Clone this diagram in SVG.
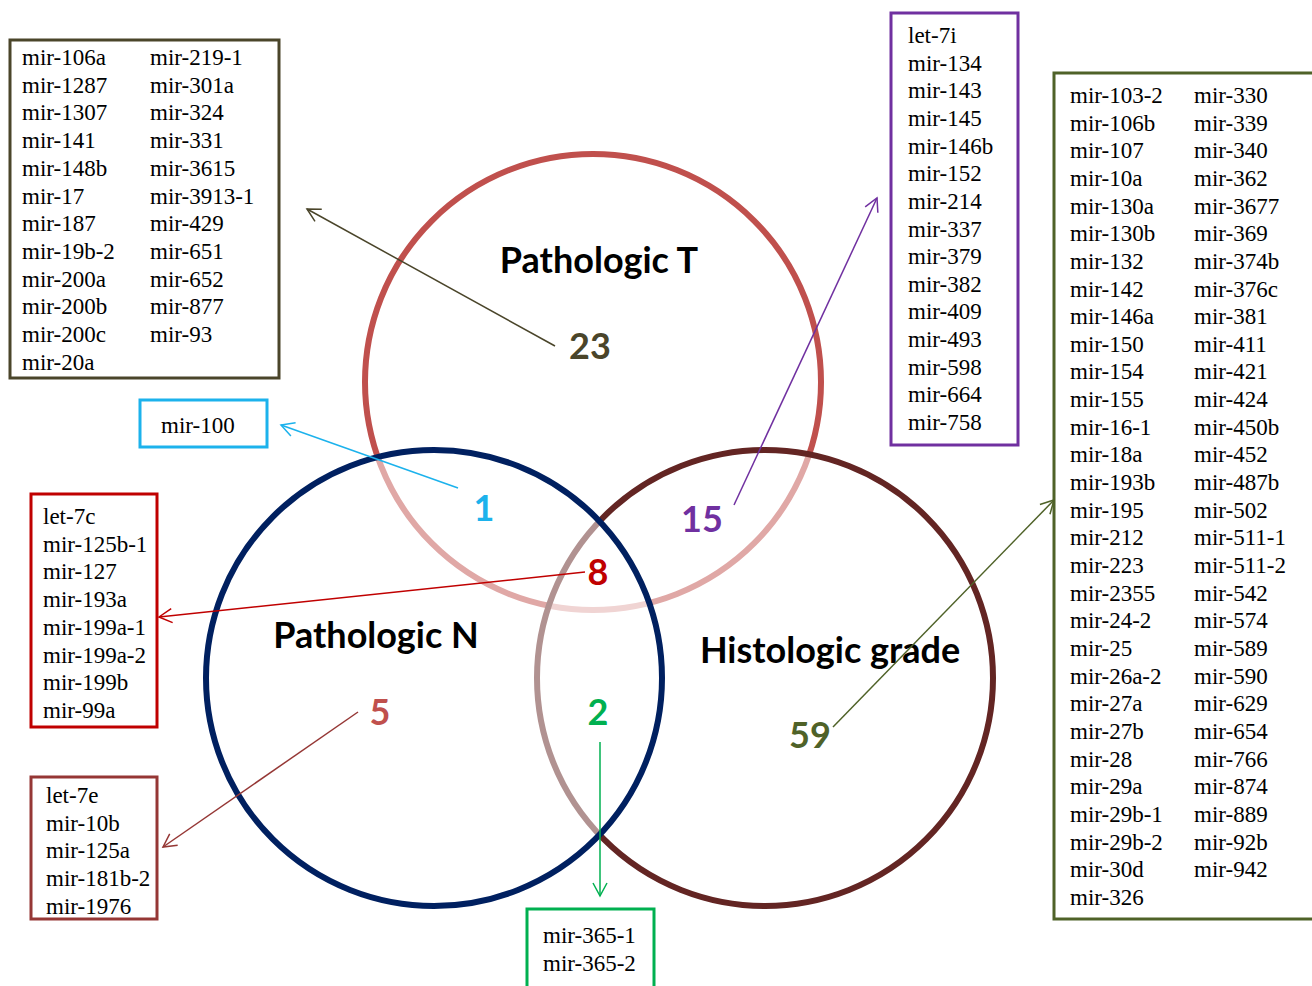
<svg xmlns="http://www.w3.org/2000/svg" width="1312" height="986" viewBox="0 0 1312 986">
<style>
.lst{font-family:'Liberation Serif','Times New Roman',serif;font-size:23px;fill:#000}
.ttl{font-family:Lato,'Open Sans',sans-serif;font-weight:bold;font-size:36px;fill:#000;text-anchor:middle}
.num{font-family:Lato,'Open Sans',sans-serif;font-weight:bold;font-size:36px;text-anchor:middle}
.box{fill:#fff;stroke-width:3}
.ring{stroke-width:6}
.con{fill:none;stroke-width:1.5}
</style>
<defs>
<marker id="aOl" markerUnits="userSpaceOnUse" markerWidth="16" markerHeight="16" refX="14" refY="8" orient="auto"><path d="M1,1 L14,8 L1,15" fill="none" stroke="#4a452a" stroke-width="1.5"/></marker>
<marker id="aCy" markerUnits="userSpaceOnUse" markerWidth="16" markerHeight="16" refX="14" refY="8" orient="auto"><path d="M1,1 L14,8 L1,15" fill="none" stroke="#1cb2ec" stroke-width="1.5"/></marker>
<marker id="aPu" markerUnits="userSpaceOnUse" markerWidth="16" markerHeight="16" refX="14" refY="8" orient="auto"><path d="M1,1 L14,8 L1,15" fill="none" stroke="#7030a0" stroke-width="1.5"/></marker>
<marker id="aRd" markerUnits="userSpaceOnUse" markerWidth="16" markerHeight="16" refX="14" refY="8" orient="auto"><path d="M1,1 L14,8 L1,15" fill="none" stroke="#c00000" stroke-width="1.5"/></marker>
<marker id="aBr" markerUnits="userSpaceOnUse" markerWidth="16" markerHeight="16" refX="14" refY="8" orient="auto"><path d="M1,1 L14,8 L1,15" fill="none" stroke="#953735" stroke-width="1.5"/></marker>
<marker id="aGn" markerUnits="userSpaceOnUse" markerWidth="16" markerHeight="16" refX="14" refY="8" orient="auto"><path d="M1,1 L14,8 L1,15" fill="none" stroke="#00b050" stroke-width="1.5"/></marker>
<marker id="aOg" markerUnits="userSpaceOnUse" markerWidth="16" markerHeight="16" refX="14" refY="8" orient="auto"><path d="M1,1 L14,8 L1,15" fill="none" stroke="#4f6228" stroke-width="1.5"/></marker>
</defs>
<rect width="1312" height="986" fill="#fff"/>

<g id="circle-T"><circle class="ring" cx="593" cy="382" r="228" fill="none" stroke="#c0504d"/></g>
<g id="circle-H"><circle class="ring" cx="765" cy="678" r="228" fill="#fff" fill-opacity="0.5" stroke="#632523"/></g>
<g id="circle-N"><circle class="ring" cx="434" cy="678" r="228" fill="#fff" fill-opacity="0.5" stroke="#002060"/></g>

<g id="label-T"><text class="ttl" x="599" y="273">Pathologic T</text></g>
<g id="label-N"><text class="ttl" x="376" y="648">Pathologic N</text></g>
<g id="label-H"><text class="ttl" x="830" y="663">Histologic grade</text></g>

<g id="count-23"><text class="num" x="590" y="359" fill="#4a452a">23</text></g>
<g id="count-1"><text class="num" x="484" y="521" fill="#1cb2ec">1</text></g>
<g id="count-15"><text class="num" x="702" y="532" fill="#7030a0">15</text></g>
<g id="count-8"><text class="num" x="598" y="585" fill="#c00000">8</text></g>
<g id="count-5"><text class="num" x="380" y="725" fill="#c0504d">5</text></g>
<g id="count-2"><text class="num" x="598" y="725" fill="#00b050">2</text></g>
<g id="count-59"><text class="num" x="810" y="748" fill="#4f6228">59</text></g>

<g id="box-T-only">
<rect class="box" x="10" y="40" width="269" height="338" stroke="#4a452a"/>
<text class="lst"><tspan x="22" y="65">mir-106a</tspan><tspan x="22" dy="27.7">mir-1287</tspan><tspan x="22" dy="27.7">mir-1307</tspan><tspan x="22" dy="27.7">mir-141</tspan><tspan x="22" dy="27.7">mir-148b</tspan><tspan x="22" dy="27.7">mir-17</tspan><tspan x="22" dy="27.7">mir-187</tspan><tspan x="22" dy="27.7">mir-19b-2</tspan><tspan x="22" dy="27.7">mir-200a</tspan><tspan x="22" dy="27.7">mir-200b</tspan><tspan x="22" dy="27.7">mir-200c</tspan><tspan x="22" dy="27.7">mir-20a</tspan></text>
<text class="lst"><tspan x="150" y="65">mir-219-1</tspan><tspan x="150" dy="27.7">mir-301a</tspan><tspan x="150" dy="27.7">mir-324</tspan><tspan x="150" dy="27.7">mir-331</tspan><tspan x="150" dy="27.7">mir-3615</tspan><tspan x="150" dy="27.7">mir-3913-1</tspan><tspan x="150" dy="27.7">mir-429</tspan><tspan x="150" dy="27.7">mir-651</tspan><tspan x="150" dy="27.7">mir-652</tspan><tspan x="150" dy="27.7">mir-877</tspan><tspan x="150" dy="27.7">mir-93</tspan></text>
</g>

<g id="box-TN">
<rect class="box" x="140" y="400" width="127" height="47" stroke="#1cb2ec"/>
<text class="lst" x="161" y="433">mir-100</text>
</g>

<g id="box-TNH">
<rect class="box" x="31" y="494" width="126" height="233" stroke="#c00000"/>
<text class="lst"><tspan x="43" y="524">let-7c</tspan><tspan x="43" dy="27.7">mir-125b-1</tspan><tspan x="43" dy="27.7">mir-127</tspan><tspan x="43" dy="27.7">mir-193a</tspan><tspan x="43" dy="27.7">mir-199a-1</tspan><tspan x="43" dy="27.7">mir-199a-2</tspan><tspan x="43" dy="27.7">mir-199b</tspan><tspan x="43" dy="27.7">mir-99a</tspan></text>
</g>

<g id="box-N-only">
<rect class="box" x="31" y="777" width="126" height="142" stroke="#953735"/>
<text class="lst"><tspan x="46" y="803">let-7e</tspan><tspan x="46" dy="27.7">mir-10b</tspan><tspan x="46" dy="27.7">mir-125a</tspan><tspan x="46" dy="27.7">mir-181b-2</tspan><tspan x="46" dy="27.7">mir-1976</tspan></text>
</g>

<g id="box-NH">
<rect class="box" x="527" y="909" width="127" height="90" stroke="#00b050"/>
<text class="lst"><tspan x="543" y="943">mir-365-1</tspan><tspan x="543" dy="27.7">mir-365-2</tspan></text>
</g>

<g id="box-TH">
<rect class="box" x="891" y="13" width="127" height="432" stroke="#7030a0"/>
<text class="lst"><tspan x="908" y="43">let-7i</tspan><tspan x="908" dy="27.65">mir-134</tspan><tspan x="908" dy="27.65">mir-143</tspan><tspan x="908" dy="27.65">mir-145</tspan><tspan x="908" dy="27.65">mir-146b</tspan><tspan x="908" dy="27.65">mir-152</tspan><tspan x="908" dy="27.65">mir-214</tspan><tspan x="908" dy="27.65">mir-337</tspan><tspan x="908" dy="27.65">mir-379</tspan><tspan x="908" dy="27.65">mir-382</tspan><tspan x="908" dy="27.65">mir-409</tspan><tspan x="908" dy="27.65">mir-493</tspan><tspan x="908" dy="27.65">mir-598</tspan><tspan x="908" dy="27.65">mir-664</tspan><tspan x="908" dy="27.65">mir-758</tspan></text>
</g>

<g id="box-H-only">
<rect class="box" x="1054" y="73" width="270" height="846" stroke="#4f6228"/>
<text class="lst"><tspan x="1070" y="103">mir-103-2</tspan><tspan x="1070" dy="27.65">mir-106b</tspan><tspan x="1070" dy="27.65">mir-107</tspan><tspan x="1070" dy="27.65">mir-10a</tspan><tspan x="1070" dy="27.65">mir-130a</tspan><tspan x="1070" dy="27.65">mir-130b</tspan><tspan x="1070" dy="27.65">mir-132</tspan><tspan x="1070" dy="27.65">mir-142</tspan><tspan x="1070" dy="27.65">mir-146a</tspan><tspan x="1070" dy="27.65">mir-150</tspan><tspan x="1070" dy="27.65">mir-154</tspan><tspan x="1070" dy="27.65">mir-155</tspan><tspan x="1070" dy="27.65">mir-16-1</tspan><tspan x="1070" dy="27.65">mir-18a</tspan><tspan x="1070" dy="27.65">mir-193b</tspan><tspan x="1070" dy="27.65">mir-195</tspan><tspan x="1070" dy="27.65">mir-212</tspan><tspan x="1070" dy="27.65">mir-223</tspan><tspan x="1070" dy="27.65">mir-2355</tspan><tspan x="1070" dy="27.65">mir-24-2</tspan><tspan x="1070" dy="27.65">mir-25</tspan><tspan x="1070" dy="27.65">mir-26a-2</tspan><tspan x="1070" dy="27.65">mir-27a</tspan><tspan x="1070" dy="27.65">mir-27b</tspan><tspan x="1070" dy="27.65">mir-28</tspan><tspan x="1070" dy="27.65">mir-29a</tspan><tspan x="1070" dy="27.65">mir-29b-1</tspan><tspan x="1070" dy="27.65">mir-29b-2</tspan><tspan x="1070" dy="27.65">mir-30d</tspan><tspan x="1070" dy="27.65">mir-326</tspan></text>
<text class="lst"><tspan x="1194" y="103">mir-330</tspan><tspan x="1194" dy="27.65">mir-339</tspan><tspan x="1194" dy="27.65">mir-340</tspan><tspan x="1194" dy="27.65">mir-362</tspan><tspan x="1194" dy="27.65">mir-3677</tspan><tspan x="1194" dy="27.65">mir-369</tspan><tspan x="1194" dy="27.65">mir-374b</tspan><tspan x="1194" dy="27.65">mir-376c</tspan><tspan x="1194" dy="27.65">mir-381</tspan><tspan x="1194" dy="27.65">mir-411</tspan><tspan x="1194" dy="27.65">mir-421</tspan><tspan x="1194" dy="27.65">mir-424</tspan><tspan x="1194" dy="27.65">mir-450b</tspan><tspan x="1194" dy="27.65">mir-452</tspan><tspan x="1194" dy="27.65">mir-487b</tspan><tspan x="1194" dy="27.65">mir-502</tspan><tspan x="1194" dy="27.65">mir-511-1</tspan><tspan x="1194" dy="27.65">mir-511-2</tspan><tspan x="1194" dy="27.65">mir-542</tspan><tspan x="1194" dy="27.65">mir-574</tspan><tspan x="1194" dy="27.65">mir-589</tspan><tspan x="1194" dy="27.65">mir-590</tspan><tspan x="1194" dy="27.65">mir-629</tspan><tspan x="1194" dy="27.65">mir-654</tspan><tspan x="1194" dy="27.65">mir-766</tspan><tspan x="1194" dy="27.65">mir-874</tspan><tspan x="1194" dy="27.65">mir-889</tspan><tspan x="1194" dy="27.65">mir-92b</tspan><tspan x="1194" dy="27.65">mir-942</tspan></text>
</g>

<g id="connectors">
<line class="con" x1="555" y1="346" x2="307" y2="209" stroke="#4a452a" marker-end="url(#aOl)"/>
<line class="con" x1="458" y1="488" x2="281" y2="425" stroke="#1cb2ec" marker-end="url(#aCy)"/>
<line class="con" x1="734" y1="505" x2="877" y2="198" stroke="#7030a0" marker-end="url(#aPu)"/>
<line class="con" x1="585" y1="572" x2="159" y2="617" stroke="#c00000" marker-end="url(#aRd)"/>
<line class="con" x1="358" y1="712" x2="163" y2="847" stroke="#953735" marker-end="url(#aBr)"/>
<line class="con" x1="600" y1="742" x2="600" y2="896" stroke="#00b050" marker-end="url(#aGn)"/>
<line class="con" x1="833" y1="727" x2="1054" y2="500" stroke="#4f6228" marker-end="url(#aOg)"/>
</g>
</svg>
